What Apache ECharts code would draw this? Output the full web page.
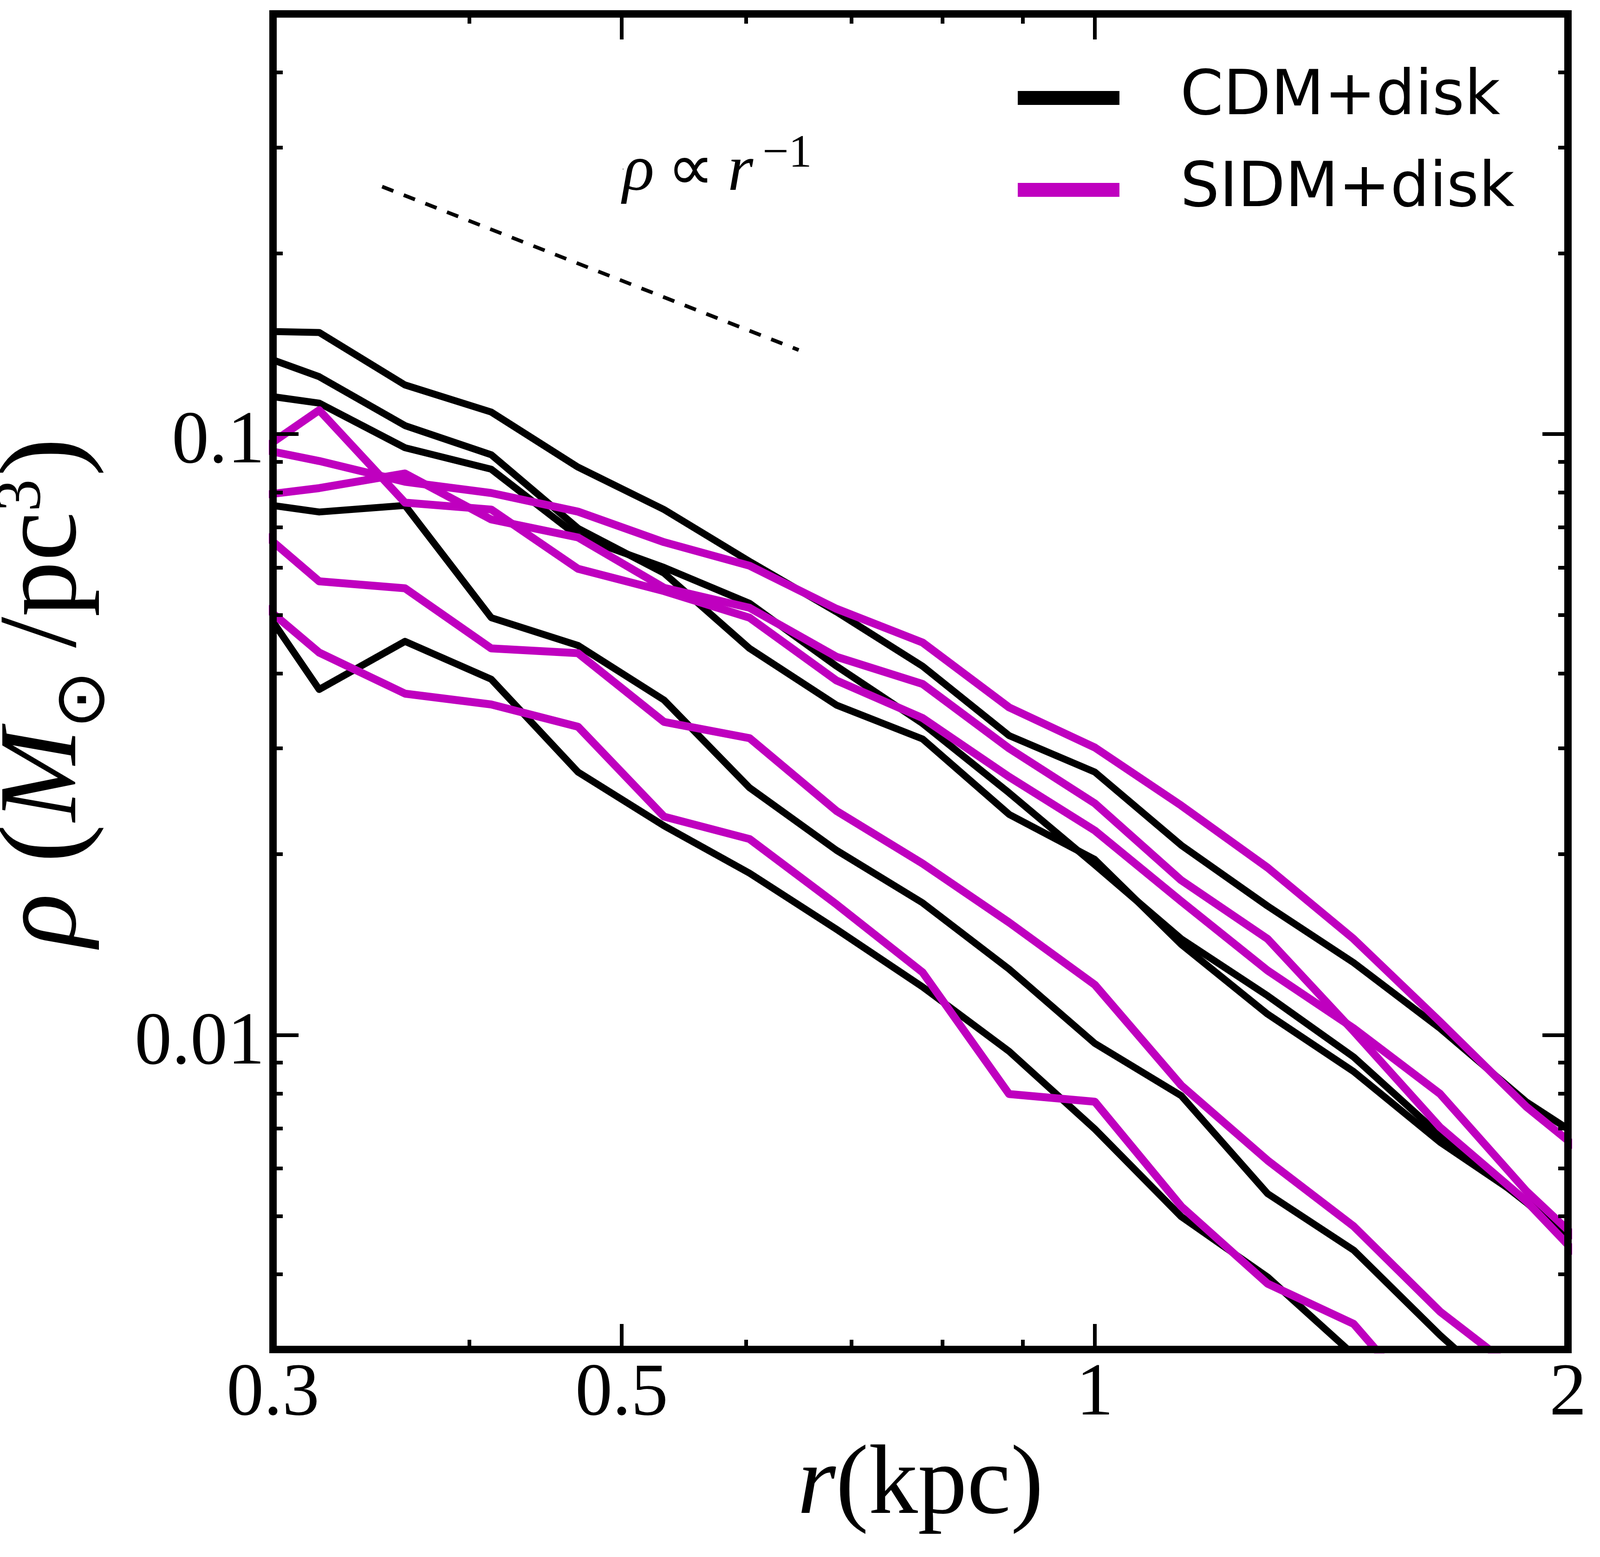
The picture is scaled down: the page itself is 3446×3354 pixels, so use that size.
<!DOCTYPE html>
<html>
<head>
	<meta charset="utf-8">
	<title>rho(r) CDM vs SIDM</title>
	<script src="https://cdn.jsdelivr.net/npm/echarts@6/dist/echarts.min.js"></script>
	<style>
		html, body { margin:0; padding:0; background:#fff; }
		#chart { width:3446px; height:3354px; }
	</style>
</head>
<body>
<div id="chart"></div>
<script type="text/javascript">
	// radial bins (kpc), first and last fall just outside the frame
	var radii = [0.283, 0.321, 0.364, 0.413, 0.469, 0.532, 0.603, 0.685, 0.777, 0.882, 1.0, 1.135, 1.288, 1.461, 1.658, 1.881, 2.134];

	// density profiles, M_sun/pc^3
	var cdm1 = [0.1486, 0.1476, 0.1207, 0.1088, 0.0881, 0.0749, 0.0614, 0.0506, 0.0411, 0.0315, 0.0274, 0.0207, 0.0164, 0.0132, 0.01027, 0.00775, 0.00625];
	var cdm2 = [0.1404, 0.1246, 0.1033, 0.0924, 0.0697, 0.0587, 0.0440, 0.0354, 0.0311, 0.0233, 0.0196, 0.01416, 0.01084, 0.00870, 0.00664, 0.00531, 0.00387];
	var cdm3 = [0.1179, 0.1126, 0.0949, 0.0874, 0.0676, 0.0600, 0.0523, 0.0411, 0.0330, 0.0253, 0.0192, 0.01446, 0.01163, 0.00920, 0.00682, 0.00527, 0.00398];
	var cdm4 = [0.0777, 0.0742, 0.0761, 0.0495, 0.0445, 0.0361, 0.0258, 0.0203, 0.0166, 0.01288, 0.00969, 0.00793, 0.00545, 0.00439, 0.00317, 0.00236, 0.00193];
	var cdm5 = [0.0609, 0.0376, 0.0452, 0.0391, 0.0274, 0.0223, 0.0186, 0.0150, 0.01203, 0.00940, 0.00698, 0.00499, 0.00396, 0.00294, 0.00218, 0.00167, 0.00128];

	var sidm1 = [0.0873, 0.1096, 0.0769, 0.0749, 0.0597, 0.0548, 0.0495, 0.0389, 0.0337, 0.0269, 0.0219, 0.0167, 0.01281, 0.01027, 0.00799, 0.00551, 0.00404];
	var sidm2 = [0.0964, 0.0902, 0.0833, 0.0798, 0.0743, 0.0661, 0.0604, 0.0512, 0.0450, 0.0351, 0.0301, 0.0241, 0.0190, 0.01446, 0.01053, 0.00761, 0.00582];
	var sidm3 = [0.0781, 0.0813, 0.0860, 0.0721, 0.0673, 0.0555, 0.0514, 0.0426, 0.0384, 0.0300, 0.0243, 0.0181, 0.01446, 0.01015, 0.00703, 0.00530, 0.00375];
	var sidm4 = [0.0754, 0.0569, 0.0554, 0.0440, 0.0432, 0.0332, 0.0312, 0.0236, 0.0193, 0.0154, 0.01213, 0.00825, 0.00619, 0.00481, 0.00347, 0.00269, 0.00210];
	var sidm5 = [0.0572, 0.0433, 0.0370, 0.0355, 0.0326, 0.0231, 0.0212, 0.0165, 0.01272, 0.00798, 0.00775, 0.00519, 0.00386, 0.00331, 0.00226, 0.00176, 0.00135];

	// rho ~ r^-1 guide segment and its note
	var guideR = [0.352, 0.648];
	var guideRho = [0.258, 0.138];
	var noteAt = [0.501, 0.276];

	// axis ranges and ticks
	var xRange = [0.3, 2];
	var yRange = [0.003, 0.5];
	var xLabelVals = [0.3, 0.5, 1, 2];
	var xMajor = [0.5, 1];
	var xMinor = [0.4, 0.6, 0.7, 0.8, 0.9];
	var yLabelVals = [0.01, 0.1];
	var yMajor = [0.01, 0.1];
	var yMinor = [0.004, 0.005, 0.006, 0.007, 0.008, 0.009, 0.02, 0.03, 0.04, 0.05, 0.06, 0.07, 0.08, 0.09, 0.2, 0.3, 0.4];

	var cdmRuns = [cdm1, cdm2, cdm3, cdm4, cdm5];
	var sidmRuns = [sidm1, sidm2, sidm3, sidm4, sidm5];

	var lg = Math.log10;
	var SERIF = 'Liberation Serif';
	var SANS = 'DejaVu Sans';

	function toPts(xs, ys){
		return xs.map(function(x, i){ return [lg(x), lg(ys[i])]; });
	}

	function fmt(v){
		return String(Number(Math.pow(10, v).toPrecision(3)));
	}

	// one axis = one tick length; spines drawn by the labelled ones
	function makeAxis(pos, range, ticks, len, spine, labels){
		var ax = {
			type: 'value',
			position: pos,
			min: lg(range[0]),
			max: lg(range[1]),
			z: 5,
			splitLine: {show: false},
			axisLine: {show: spine, onZero: false, lineStyle: {color: '#000', width: 16, cap: 'square'}},
			axisTick: {
				show: true, inside: true, length: len,
				customValues: ticks.map(lg),
				lineStyle: {color: '#000', width: 8}
			},
			axisLabel: {show: false}
		};
		if(labels){
			ax.axisLabel = {
				show: true,
				customValues: labels.map(lg),
				formatter: fmt,
				fontFamily: SERIF,
				fontSize: 160,
				color: '#000',
				margin: 18
			};
		}
		return ax;
	}

	var xBottom = makeAxis('bottom', xRange, xMajor, 55, true, xLabelVals);
	xBottom.name = '{i|r}{n|(kpc)}';
	xBottom.nameLocation = 'middle';
	xBottom.nameGap = 190;
	xBottom.nameTextStyle = {
		rich: {
			i: {fontFamily: SERIF, fontStyle: 'italic', fontSize: 212, color: '#000'},
			n: {fontFamily: SERIF, fontSize: 212, color: '#000'}
		}
	};

	var yLeft = makeAxis('left', yRange, yMajor, 55, true, yLabelVals);
	// digits sit a little below the tick, as in the source figure
	yLeft.axisLabel.verticalAlign = 'top';
	yLeft.axisLabel.lineHeight = 38;
	yLeft.name = '{i|ρ}{n| }{p|(}{i|M}{sub|⊙}{n|\u2009/pc}{sup|3}{p|)}';
	yLeft.nameLocation = 'middle';
	yLeft.nameRotate = 90;
	yLeft.nameGap = 329;
	yLeft.nameTextStyle = {
		padding: [0, 40, 0, 0],
		rich: {
			i: {fontFamily: SERIF, fontStyle: 'italic', fontSize: 240, lineHeight: 280, verticalAlign: 'top', color: '#000'},
			n: {fontFamily: SERIF, fontSize: 240, lineHeight: 280, verticalAlign: 'top', color: '#000'},
			p: {fontFamily: SERIF, fontSize: 250, lineHeight: 280, verticalAlign: 'top', color: '#000', padding: [0, 6, 0, 6]},
			sub: {fontFamily: SERIF, fontSize: 150, lineHeight: 150, verticalAlign: 'bottom', color: '#000'},
			sup: {fontFamily: SERIF, fontSize: 140, lineHeight: 140, verticalAlign: 'top', color: '#000'}
		}
	};

	var xAxes = [
		xBottom,
		makeAxis('bottom', xRange, xMinor, 21, false, null),
		makeAxis('top', xRange, xMajor, 55, true, null),
		makeAxis('top', xRange, xMinor, 21, false, null)
	];
	var yAxes = [
		yLeft,
		makeAxis('left', yRange, yMinor, 21, false, null),
		makeAxis('right', yRange, yMajor, 55, true, null),
		makeAxis('right', yRange, yMinor, 21, false, null)
	];

	var series = [];
	cdmRuns.forEach(function(rho){
		series.push({
			name: 'CDM+disk', type: 'line', data: toPts(radii, rho),
			symbol: 'none', z: 2,
			itemStyle: {color: '#000000'},
			lineStyle: {color: '#000000', width: 15, join: 'round'}
		});
	});
	sidmRuns.forEach(function(rho){
		series.push({
			name: 'SIDM+disk', type: 'line', data: toPts(radii, rho),
			symbol: 'none', z: 3,
			itemStyle: {color: '#bf00bf'},
			lineStyle: {color: '#bf00bf', width: 17, join: 'round'}
		});
	});
	series.push({
		name: 'guide', type: 'line', data: toPts(guideR, guideRho),
		symbol: 'none', z: 4,
		lineStyle: {color: '#000', width: 8, type: [26, 24]}
	});
	series.push({
		name: 'note', type: 'scatter', data: [[lg(noteAt[0]), lg(noteAt[1])]],
		symbolSize: 0, z: 4,
		itemStyle: {color: '#000'},
		label: {
			show: true, position: [0, 0], align: 'left', verticalAlign: 'middle',
			color: '#000', opacity: 1,
			formatter: '{i|ρ}{n|\u2009∝\u2009}{i|r}{sup|\u2009−1}',
			rich: {
				i: {fontFamily: SERIF, fontStyle: 'italic', fontSize: 142, lineHeight: 160, verticalAlign: 'bottom', color: '#000'},
				n: {fontFamily: SERIF, fontSize: 142, lineHeight: 160, verticalAlign: 'bottom', color: '#000'},
				sup: {fontFamily: SERIF, fontSize: 100, lineHeight: 100, verticalAlign: 'top', color: '#000'}
			}
		}
	});

	var chart = echarts.init(document.getElementById('chart'), null, {renderer: 'canvas'});
	chart.setOption({
		animation: false,
		backgroundColor: '#ffffff',
		grid: {left: 588, right: 69, top: 30, bottom: 447, containLabel: false, outerBoundsMode: 'none'},
		legend: {
			data: ['CDM+disk', 'SIDM+disk'],
			orient: 'vertical',
			left: 2187, top: 136,
			icon: 'rect',
			itemWidth: 219, itemHeight: 30, itemGap: 58,
			selectedMode: false,
			textStyle: {fontFamily: SANS, fontSize: 133, lineHeight: 140, color: '#000', padding: [0, 0, 0, 126]}
		},
		xAxis: xAxes,
		yAxis: yAxes,
		series: series
	});
</script>
</body>
</html>
